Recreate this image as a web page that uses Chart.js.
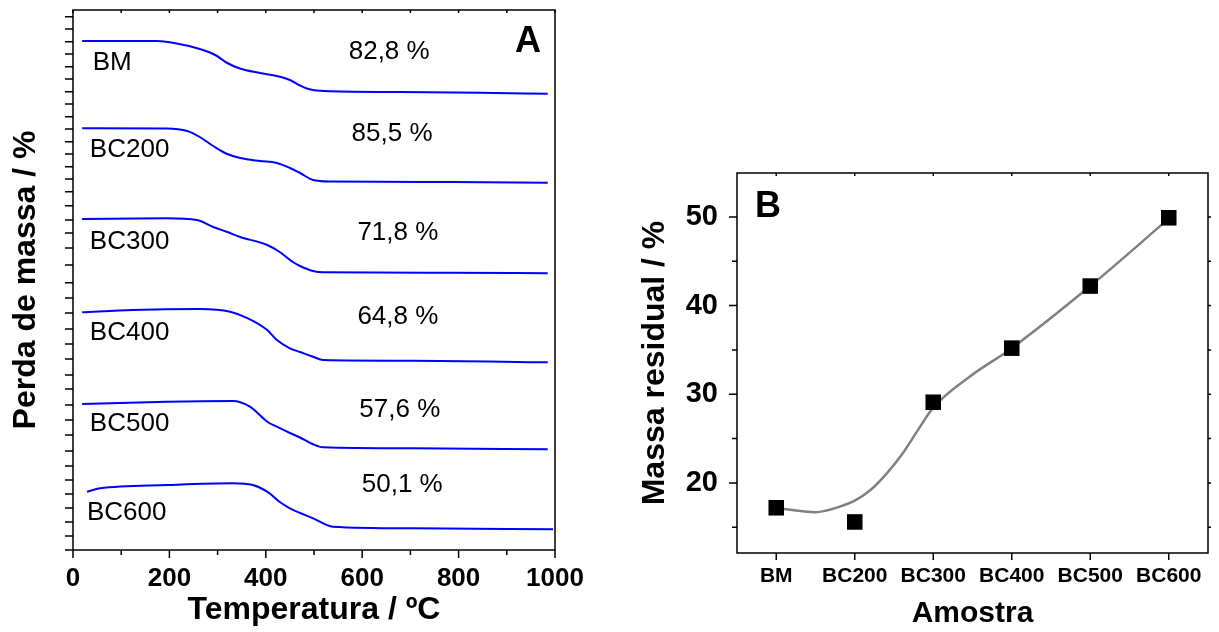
<!DOCTYPE html>
<html>
<head>
<meta charset="utf-8">
<script src="https://cdn.jsdelivr.net/npm/chart.js@4.4.1/dist/chart.umd.min.js"></script>
<style>
  html, body { margin: 0; padding: 0; background: #fff; }
  #wrap { position: relative; width: 1219px; height: 632px; overflow: hidden; }
  #tga { position: absolute; left: 0; top: 0; }
  #res { position: absolute; left: 610px; top: 0; }
</style>
</head>
<body>
<div id="wrap">
  <canvas id="tga" width="610" height="632"></canvas>
  <canvas id="res" width="609" height="632"></canvas>
</div>
<script>
const FONT = "'Liberation Sans', Arial, Helvetica, sans-serif";

// Sample names
const samples = ['BM', 'BC200', 'BC300', 'BC400', 'BC500', 'BC600'];

// Panel A: TG curves (temperature in ºC, mass signal stacked with offsets, arbitrary units)
const tBM    = [19, 98, 174, 207, 263, 295, 320, 346, 388, 423, 450, 471, 485, 498, 533, 678, 844, 985];
const mBM    = [509, 509, 509, 507.3, 501, 495, 487, 481.5, 477, 474, 470, 464.5, 461.5, 460, 458.7, 458, 457.2, 456.3];
const tBC200 = [19, 195, 237, 263, 291, 320, 347, 388, 423, 450, 471, 498, 533, 782, 985];
const mBC200 = [421.7, 421.5, 419, 413, 404, 396, 392, 389, 387, 382, 377, 370, 368.5, 368, 367.3];
const tBC300 = [19, 195, 257, 291, 320, 347, 403, 429, 456, 471, 498, 519, 776, 985];
const mBC300 = [331, 331.7, 330, 323, 318, 313, 305, 298, 288, 284, 279, 277.7, 277.3, 276.7];
const tBC400 = [19, 124, 263, 326, 363, 403, 423, 450, 471, 498, 519, 705, 985];
const mBC400 = [237.7, 240, 241, 238.3, 231.7, 220, 210, 201.7, 198, 193.3, 190, 189.3, 187.7];
const tBC500 = [19, 195, 332, 367, 403, 423, 450, 471, 498, 519, 705, 985];
const mBC500 = [146, 148.3, 149, 143.3, 128.3, 123.3, 117, 112.5, 105.7, 102.7, 101.7, 100.7];
const tBC600 = [29, 56, 195, 332, 373, 403, 429, 450, 471, 498, 539, 705, 996];
const mBC600 = [58.3, 61.7, 65, 66.7, 65, 58.3, 48, 41.7, 37, 31.7, 23.3, 21.7, 20.7];

// Mass loss stated for each sample
const lossLabels = ['82,8 %', '85,5 %', '71,8 %', '64,8 %', '57,6 %', '50,1 %'];

// Panel A axis ticks
const xTicksA = [0, 200, 400, 600, 800, 1000];
const yTicksA = [533.3, 521, 508.3, 496, 483.3, 471, 458.3, 446, 433.3, 421, 408.3, 396, 383.3, 371, 358.3,
                 344.3, 330, 317, 302, 285, 267.3, 252, 237, 221, 206, 191, 175, 161, 145, 130, 115, 99,
                 84, 70, 56, 42, 28, 14, 0];

// Panel B: residual mass per sample (%)
const residualMass = [17.2, 15.6, 29.1, 35.2, 42.2, 49.9];
// Smoothed trend line through the residual masses
const trendX = [0, 0.1, 0.5, 0.8, 1.0, 1.2, 1.4, 1.6, 1.8, 2.0, 2.45, 3, 4, 5];
const trendY = [17.15, 17.05, 16.7, 17.3, 18.0, 19.2, 21.0, 23.2, 25.9, 28.5, 31.9, 35.2, 42.2, 49.8];
const yTicksB = [20, 30, 40, 50];
const yMinorB = [15, 25, 35, 45];

// ---------- annotation placement for panel A (data coordinates) ----------
const nameAnchors = [
  { t: 41, v: 487 }, { t: 35, v: 400 }, { t: 35, v: 308 },
  { t: 35, v: 217 }, { t: 35, v: 126 }, { t: 29, v: 37 }
];
const lossAnchors = [
  { t: 656, v: 498 }, { t: 662, v: 416 }, { t: 674, v: 317 },
  { t: 674, v: 233 }, { t: 678, v: 140 }, { t: 683, v: 65 }
];

const curves = [
  [tBM, mBM], [tBC200, mBC200], [tBC300, mBC300],
  [tBC400, mBC400], [tBC500, mBC500], [tBC600, mBC600]
];

function strokeTicks(ctx, segs) {
  ctx.beginPath();
  segs.forEach(s => { ctx.moveTo(s[0], s[1]); ctx.lineTo(s[2], s[3]); });
  ctx.stroke();
}

const frameA = {
  id: 'frameA',
  afterDatasetsDraw(chart) {
    const { ctx, chartArea: a, scales: { x, y } } = chart;
    ctx.save();
    ctx.strokeStyle = '#000';
    ctx.lineWidth = 1.5;
    ctx.strokeRect(a.left, a.top, a.right - a.left, a.bottom - a.top);
    const segs = [];
    yTicksA.forEach(v => {
      const p = y.getPixelForValue(v);
      segs.push([a.left - 8, p, a.left, p]);
    });
    for (let t = 0; t <= 1000; t += 100) {
      const p = x.getPixelForValue(t);
      const L = t % 200 === 0 ? 8 : 5;
      segs.push([p, a.bottom, p, a.bottom + L]);
      segs.push([p, a.top, p, a.top + 3]);
    }
    strokeTicks(ctx, segs);

    ctx.fillStyle = '#000';
    ctx.textBaseline = 'middle';
    ctx.font = '26px ' + FONT;
    ctx.textAlign = 'left';
    samples.forEach((s, i) => {
      ctx.fillText(s, x.getPixelForValue(nameAnchors[i].t), y.getPixelForValue(nameAnchors[i].v));
    });
    ctx.textAlign = 'center';
    lossLabels.forEach((s, i) => {
      ctx.fillText(s, x.getPixelForValue(lossAnchors[i].t), y.getPixelForValue(lossAnchors[i].v));
    });
    ctx.font = 'bold 36px ' + FONT;
    ctx.fillText('A', a.right - 27, a.top + 32);
    ctx.restore();
  }
};

const frameB = {
  id: 'frameB',
  afterDatasetsDraw(chart) {
    const { ctx, chartArea: a, scales: { x, y } } = chart;
    ctx.save();
    ctx.strokeStyle = '#000';
    ctx.lineWidth = 1.5;
    ctx.strokeRect(a.left, a.top, a.right - a.left, a.bottom - a.top);
    const segs = [];
    yTicksB.forEach(v => { const p = y.getPixelForValue(v); segs.push([a.left - 8, p, a.left, p]); });
    yMinorB.forEach(v => { const p = y.getPixelForValue(v); segs.push([a.left - 5, p, a.left, p]); });
    yTicksB.concat(yMinorB).forEach(v => { const p = y.getPixelForValue(v); segs.push([a.right, p, a.right + 3, p]); });
    samples.forEach((s, i) => {
      const p = x.getPixelForValue(i);
      segs.push([p, a.bottom, p, a.bottom + 7]);
      segs.push([p, a.top, p, a.top + 3]);
    });
    strokeTicks(ctx, segs);
    ctx.fillStyle = '#000';
    ctx.textAlign = 'center';
    ctx.textBaseline = 'middle';
    ctx.font = 'bold 36px ' + FONT;
    ctx.fillText('B', a.left + 31, a.top + 34);
    ctx.restore();
  }
};

const titleFont = { family: FONT, size: 32, weight: 'bold' };

new Chart(document.getElementById('tga'), {
  type: 'line',
  data: {
    datasets: curves.map(c => ({
      data: c[0].map((t, i) => ({ x: t, y: c[1][i] })),
      borderColor: '#0000ff',
      borderWidth: 2,
      pointRadius: 0,
      tension: 0.4,
      cubicInterpolationMode: 'monotone',
      fill: false
    }))
  },
  options: {
    responsive: false,
    animation: false,
    layout: { padding: { top: 10, right: 55, left: 0, bottom: 0 } },
    plugins: { legend: { display: false }, tooltip: { enabled: false } },
    scales: {
      x: {
        type: 'linear', min: 0, max: 1000,
        grid: { display: false, drawTicks: false },
        border: { display: false },
        afterBuildTicks(s) { s.ticks = xTicksA.map(v => ({ value: v })); },
        ticks: {
          callback: v => String(v),
          font: { family: FONT, size: 26, weight: 'bold' }, color: '#000', padding: 13, maxRotation: 0, autoSkip: false
        },
        title: { display: true, text: 'Temperatura / ºC', font: titleFont, color: '#000', padding: { top: 0, bottom: 3 } },
        afterFit(s) { s.height = 82; }
      },
      y: {
        type: 'linear', min: 0, max: 540,
        grid: { display: false, drawTicks: false },
        border: { display: false },
        ticks: { display: false },
        title: { display: true, text: 'Perda de massa / %', font: titleFont, color: '#000', padding: { top: 7, bottom: 0 } },
        afterFit(s) { s.width = 73; }
      }
    }
  },
  plugins: [frameA]
});

new Chart(document.getElementById('res'), {
  type: 'line',
  data: {
    datasets: [
      {
        data: residualMass.map((v, i) => ({ x: i, y: v })),
        showLine: false,
        pointStyle: 'rect',
        pointRadius: 11,
        pointBackgroundColor: '#000',
        pointBorderWidth: 0
      },
      {
        data: trendX.map((v, i) => ({ x: v, y: trendY[i] })),
        borderColor: '#808080',
        borderWidth: 2.5,
        pointRadius: 0,
        tension: 0.4,
        cubicInterpolationMode: 'monotone',
        fill: false
      }
    ]
  },
  options: {
    responsive: false,
    animation: false,
    layout: { padding: { top: 173, right: 2, left: 0, bottom: 0 } },
    plugins: { legend: { display: false }, tooltip: { enabled: false } },
    scales: {
      x: {
        type: 'linear', min: -0.5, max: 5.5,
        grid: { display: false, drawTicks: false },
        border: { display: false },
        afterBuildTicks(s) { s.ticks = samples.map((n, i) => ({ value: i })); },
        ticks: {
          callback: v => samples[v],
          font: { family: FONT, size: 21, weight: 'bold' }, color: '#000', padding: 11, maxRotation: 0, autoSkip: false
        },
        title: { display: true, text: 'Amostra', font: { family: FONT, size: 30, weight: 'bold' }, color: '#000', padding: { top: 0, bottom: 0 } },
        afterFit(s) { s.height = 79; }
      },
      y: {
        type: 'linear', min: 12.1, max: 54.95,
        grid: { display: false, drawTicks: false },
        border: { display: false },
        afterBuildTicks(s) { s.ticks = yTicksB.map(v => ({ value: v })); },
        ticks: { font: { family: FONT, size: 29, weight: 'bold' }, color: '#000', padding: 19 },
        title: { display: true, text: 'Massa residual / %', font: titleFont, color: '#000', padding: { top: 26, bottom: 0 } },
        afterFit(s) { s.width = 127; }
      }
    }
  },
  plugins: [frameB]
});
</script>
</body>
</html>
